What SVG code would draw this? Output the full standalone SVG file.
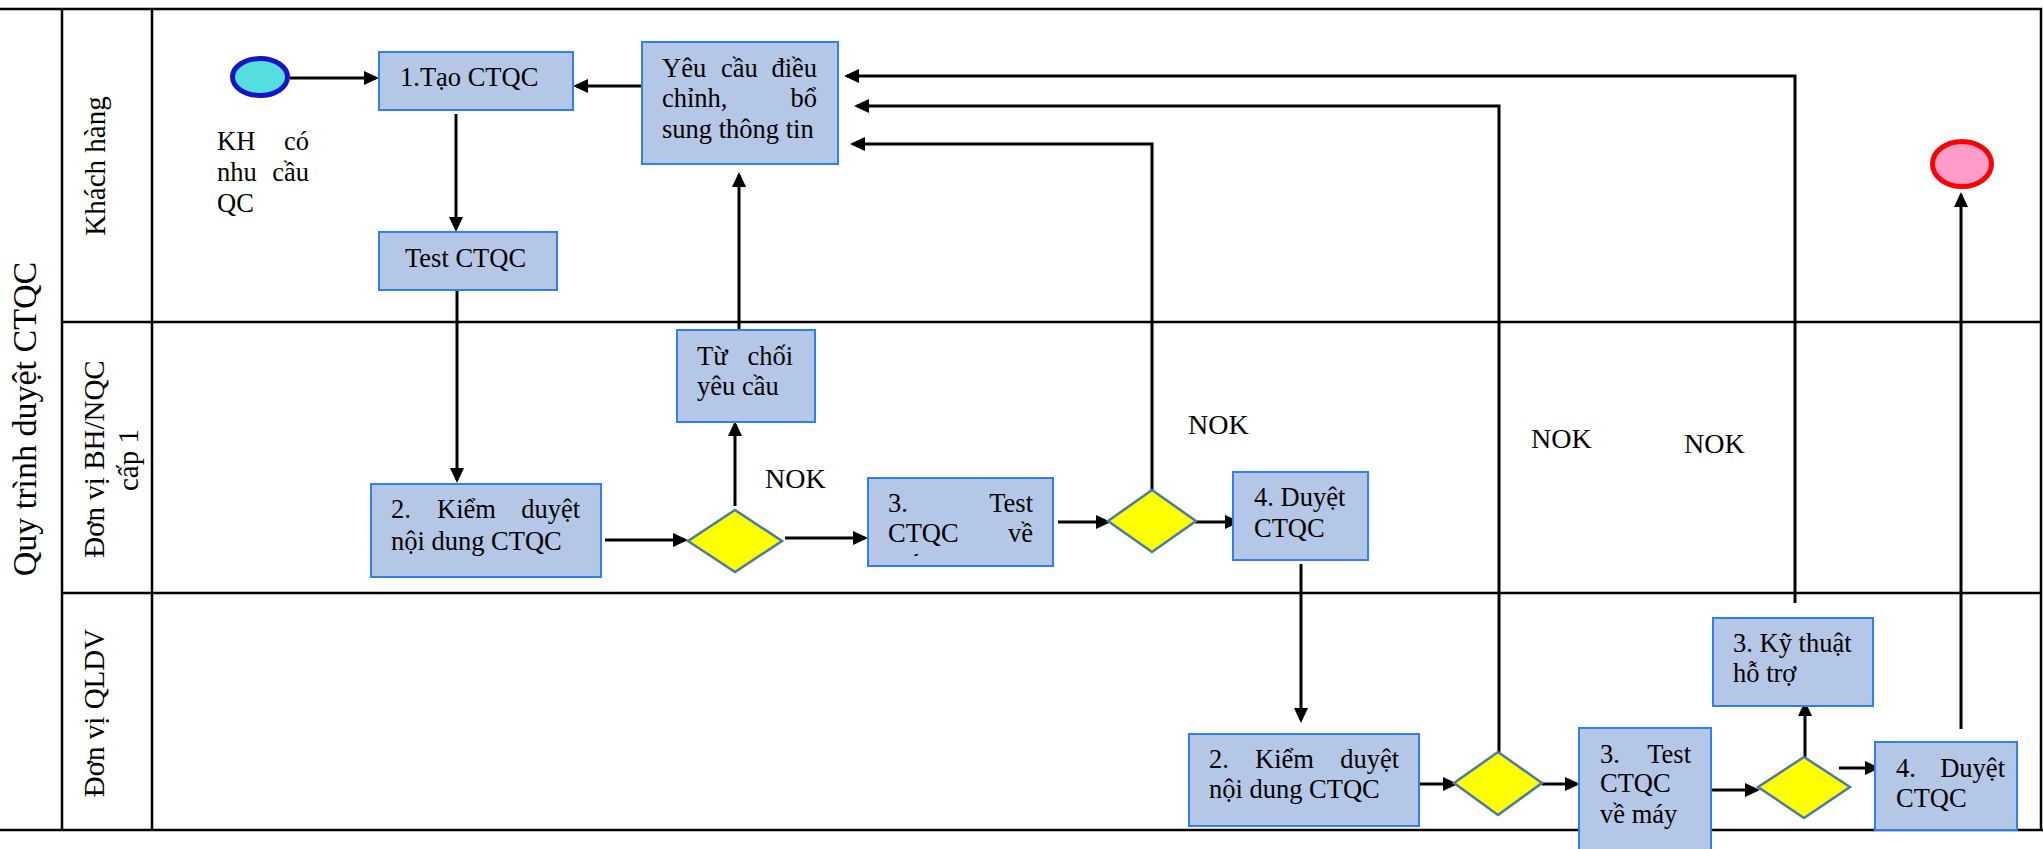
<svg xmlns="http://www.w3.org/2000/svg" width="2043" height="849" viewBox="0 0 2043 849">
<style>
.box{fill:#b4c7e7;stroke:#2f80f2;stroke-width:2}
.dia{fill:#ffff00;stroke:#4a7aa8;stroke-width:2.5}
text{font-family:"Liberation Serif","Times New Roman",serif;fill:#000}
.t{font-size:26.5px}
.e{text-anchor:end}
.lane{font-size:29px;text-anchor:middle}
.title{font-size:34px;text-anchor:middle}
.nok{font-size:28px}
.frame{stroke:#000;stroke-width:2.5;fill:none}
.conn path{stroke:#000;stroke-width:3;fill:none;marker-end:url(#ah)}
</style>
<defs>
<marker id="ah" markerUnits="userSpaceOnUse" markerWidth="15" markerHeight="14" refX="12" refY="7" orient="auto" viewBox="0 0 15 14">
<path d="M0,0 L15,7 L0,14 z" fill="#000"/>
</marker>
<clipPath id="clipTest1"><rect x="868" y="478" width="185" height="78"/></clipPath>
</defs>
<rect width="2043" height="849" fill="#fff"/>
<g id="frame" class="frame">
<path d="M0,9 H2041 V830"/>
<path d="M0,830 H2043"/>
<path d="M62,9 V830 M152,9 V830"/>
<path d="M62,322 H2041 M62,593 H2041"/>
</g>
<g id="labels">
<text class="title" transform="translate(36,419) rotate(-90)">Quy trình duyệt CTQC</text>
<text class="lane" transform="translate(105,166) rotate(-90)">Khách hàng</text>
<text class="lane" transform="translate(104,459) rotate(-90)">Đơn vị BH/NQC</text>
<text class="lane" transform="translate(138,460) rotate(-90)">cấp 1</text>
<text class="lane" transform="translate(104,713) rotate(-90)">Đơn vị QLDV</text>
</g>
<g id="connectors" class="conn">
<path d="M290,78 H376"/>
<path d="M642,86 H576"/>
<path d="M456,114 V229"/>
<path d="M457,290 V480"/>
<path d="M605,540 H685"/>
<path d="M735,506 V424"/>
<path d="M739,330 V175"/>
<path d="M785,538 H865"/>
<path d="M1058,522 H1108"/>
<path d="M1152,490 V144 H853"/>
<path d="M1195,522 H1237"/>
<path d="M1301,564 V720"/>
<path d="M1419,784 H1455"/>
<path d="M1499,752 V106 H857"/>
<path d="M1542,784 H1577"/>
<path d="M1712,790 H1757"/>
<path d="M1805,757 V704"/>
<path d="M1795,603 V76 H847"/>
<path d="M1839,768 H1877"/>
<path d="M1961,729 V195"/>
</g>
<g id="start">
<ellipse cx="260" cy="77" rx="27.5" ry="18.5" fill="#55dede" stroke="#1515c8" stroke-width="5"/>
<text class="t" x="217" y="150">KH</text><text class="t e" x="309" y="150">có</text>
<text class="t" x="217" y="181">nhu</text><text class="t e" x="309" y="181">cầu</text>
<text class="t" x="217" y="212">QC</text>
</g>
<g id="tao">
<rect class="box" x="379" y="52" width="194" height="58"/>
<text class="t" x="400" y="86">1.Tạo CTQC</text>
</g>
<g id="test">
<rect class="box" x="379" y="232" width="178" height="58"/>
<text class="t" x="405" y="267">Test CTQC</text>
</g>
<g id="yeucau">
<rect class="box" x="642" y="42" width="196" height="122"/>
<text class="t" x="662" y="77">Yêu</text><text class="t" x="721" y="77">cầu</text><text class="t e" x="817" y="77">điều</text>
<text class="t" x="662" y="107">chỉnh,</text><text class="t e" x="817" y="107">bổ</text>
<text class="t" x="662" y="138">sung thông tin</text>
</g>
<g id="tuchoi">
<rect class="box" x="677" y="330" width="138" height="92"/>
<text class="t" x="697" y="365">Từ</text><text class="t e" x="793" y="365">chối</text>
<text class="t" x="697" y="395">yêu cầu</text>
</g>
<g id="kiemduyet1">
<rect class="box" x="371" y="484" width="230" height="93"/>
<text class="t" x="391" y="518">2.</text><text class="t" x="437" y="518">Kiểm</text><text class="t e" x="580" y="518">duyệt</text>
<text class="t" x="391" y="550">nội dung CTQC</text>
</g>
<g id="d1"><polygon class="dia" points="688,541 735,510 782,541 735,572"/></g>
<g id="test1">
<rect class="box" x="868" y="478" width="185" height="88"/>
<text class="t" x="888" y="512">3.</text><text class="t e" x="1033" y="512">Test</text>
<text class="t" x="888" y="542">CTQC</text><text class="t e" x="1033" y="542">về</text>
<text class="t" x="888" y="573" clip-path="url(#clipTest1)">máy</text>
</g>
<g id="d2"><polygon class="dia" points="1108,521 1152,490 1196,521 1152,552"/></g>
<g id="duyet1">
<rect class="box" x="1233" y="472" width="135" height="88"/>
<text class="t" x="1254" y="506">4. Duyệt</text>
<text class="t" x="1254" y="537">CTQC</text>
</g>
<g id="kiemduyet2">
<rect class="box" x="1189" y="734" width="230" height="92"/>
<text class="t" x="1209" y="768">2.</text><text class="t" x="1255" y="768">Kiểm</text><text class="t e" x="1399" y="768">duyệt</text>
<text class="t" x="1209" y="798">nội dung CTQC</text>
</g>
<g id="d3"><polygon class="dia" points="1454,783 1498,752 1542,783 1498,815"/></g>
<g id="test2">
<rect class="box" x="1579" y="728" width="132" height="130"/>
<text class="t" x="1600" y="763">3.</text><text class="t e" x="1691" y="763">Test</text>
<text class="t" x="1600" y="792">CTQC</text>
<text class="t" x="1600" y="823">về máy</text>
</g>
<g id="d4"><polygon class="dia" points="1758,787 1804,757 1850,787 1804,818"/></g>
<g id="kythuat">
<rect class="box" x="1713" y="618" width="160" height="88"/>
<text class="t" x="1733" y="652">3. Kỹ thuật</text>
<text class="t" x="1733" y="682">hỗ trợ</text>
</g>
<g id="duyet2">
<rect class="box" x="1875" y="742" width="142" height="88"/>
<text class="t" x="1896" y="777">4.</text><text class="t e" x="2005" y="777">Duyệt</text>
<text class="t" x="1896" y="807">CTQC</text>
</g>
<g id="end">
<ellipse cx="1962" cy="164" rx="29.5" ry="22.5" fill="#ff9cca" stroke="#ff0000" stroke-width="5"/>
</g>
<g id="nok">
<text class="nok" x="765" y="488">NOK</text>
<text class="nok" x="1188" y="434">NOK</text>
<text class="nok" x="1531" y="448">NOK</text>
<text class="nok" x="1684" y="453">NOK</text>
</g>
</svg>
